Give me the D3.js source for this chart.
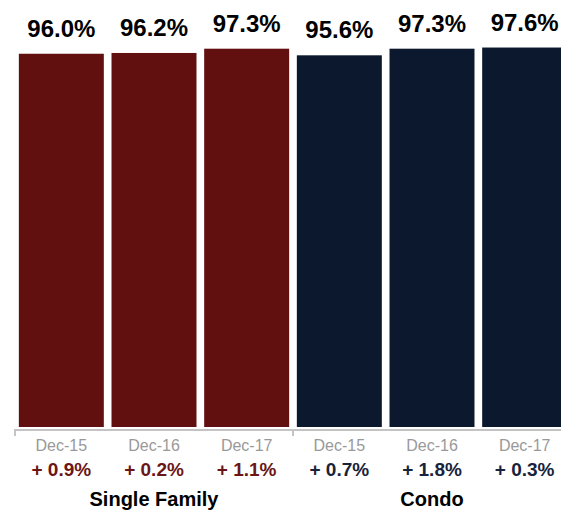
<!DOCTYPE html>
<html>
<head>
<meta charset="utf-8">
<script src="https://cdnjs.cloudflare.com/ajax/libs/d3/7.8.5/d3.min.js"></script>
<style>
  body { margin: 0; background: #fff; }
  svg { display: block; font-family: "Liberation Sans", Arial, Helvetica, sans-serif; }
</style>
</head>
<body>
<svg width="561" height="516"></svg>
<script>
const groups = ["Single Family", "Condo"];
const categories = ["Dec-15", "Dec-16", "Dec-17"];
const singleFamily = [96.0, 96.2, 97.3];
const condo = [95.6, 97.3, 97.6];
const singleFamilyChange = [0.9, 0.2, 1.1];
const condoChange = [0.7, 1.8, 0.3];

const barColor = ["#620f0f", "#0b182d"];
const changeColor = ["#6b1616", "#18233b"];

const svg = d3.select("svg");

// flatten into one row per bar
const rows = [];
[singleFamily, condo].forEach(function (vals, g) {
    const ch = g === 0 ? singleFamilyChange : condoChange;
    vals.forEach(function (v, i) {
        rows.push({ key: g + "-" + i, group: g, cat: categories[i], value: v, change: ch[i] });
    });
});

const x = d3.scaleBand()
    .domain(rows.map(function (d) { return d.key; }))
    .range([15, 571])
    .paddingInner(0.083)
    .paddingOuter(0.0415);

const gx = d3.scaleBand()
    .domain(groups)
    .range([15, 571]);

const y = d3.scaleLinear()
    .domain([0, 100])
    .range([427, 38.2]);

// bars
svg.append("g")
    .selectAll("rect")
    .data(rows)
    .enter().append("rect")
    .attr("x", function (d) { return x(d.key); })
    .attr("y", function (d) { return y(d.value); })
    .attr("width", x.bandwidth())
    .attr("height", function (d) { return y(0) - y(d.value); })
    .attr("fill", function (d) { return barColor[d.group]; });

// value labels
svg.append("g")
    .selectAll("text")
    .data(rows)
    .enter().append("text")
    .attr("x", function (d) { return x(d.key) + x.bandwidth() / 2; })
    .attr("y", function (d) { return y(d.value) - 17; })
    .attr("text-anchor", "middle")
    .attr("font-size", 24)
    .attr("font-weight", "bold")
    .attr("fill", "#000")
    .text(function (d) { return d.value.toFixed(1) + "%"; });

// axis line with group boundary ticks
const axis = svg.append("g").attr("stroke", "#c4c4c4").attr("stroke-width", 2);
axis.append("line")
    .attr("x1", 15).attr("x2", 571)
    .attr("y1", 430).attr("y2", 430);
axis.selectAll("line.tick")
    .data(groups.concat(["end"]))
    .enter().append("line")
    .attr("class", "tick")
    .attr("x1", function (d, i) { return gx.range()[0] + i * gx.step(); })
    .attr("x2", function (d, i) { return gx.range()[0] + i * gx.step(); })
    .attr("y1", 429).attr("y2", 436);

// category labels
svg.append("g")
    .selectAll("text")
    .data(rows)
    .enter().append("text")
    .attr("x", function (d) { return x(d.key) + x.bandwidth() / 2; })
    .attr("y", 450.5)
    .attr("text-anchor", "middle")
    .attr("font-size", 16)
    .attr("fill", "#999")
    .text(function (d) { return d.cat; });

// change labels
svg.append("g")
    .selectAll("text")
    .data(rows)
    .enter().append("text")
    .attr("x", function (d) { return x(d.key) + x.bandwidth() / 2; })
    .attr("y", 475.5)
    .attr("text-anchor", "middle")
    .attr("font-size", 19)
    .attr("font-weight", "bold")
    .attr("fill", function (d) { return changeColor[d.group]; })
    .text(function (d) { return "+ " + d.change.toFixed(1) + "%"; });

// group labels
svg.append("g")
    .selectAll("text")
    .data(groups)
    .enter().append("text")
    .attr("x", function (d) { return gx(d) + gx.bandwidth() / 2; })
    .attr("y", 506)
    .attr("text-anchor", "middle")
    .attr("font-size", 20)
    .attr("font-weight", "bold")
    .attr("fill", "#000")
    .text(function (d) { return d; });
</script>
</body>
</html>
